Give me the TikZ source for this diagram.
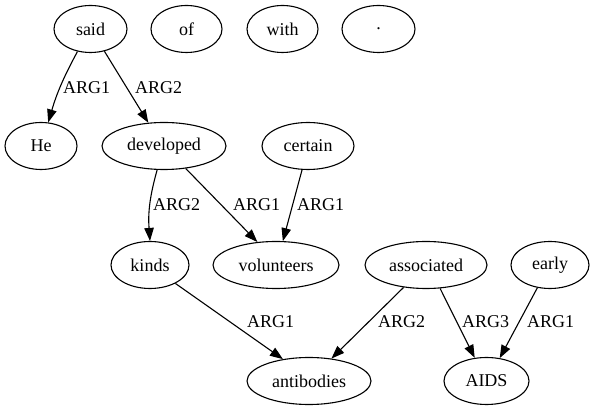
\documentclass[tikz,border=0pt]{standalone}
\usepackage{fontspec}
\setmainfont{Liberation Serif}
\usetikzlibrary{shapes.geometric,arrows.meta}
\tikzset{
  wordnode/.style={ellipse, draw, line width=1.1pt, inner sep=0pt, minimum height=47pt, font=\fontsize{18}{20}\selectfont},
  rolelabel/.style={anchor=west, inner sep=0pt, font=\fontsize{18}{20}\selectfont},
  arr/.style={line width=1.1pt, -{Triangle[length=13pt,width=9.5pt]}}
}
\begin{document}
\begin{tikzpicture}[x=1pt,y=1pt]
\useasboundingbox (0,0) rectangle (593,411);
% row 1
\node[wordnode, minimum width=73pt] (said) at (90.5,382) {said};
\node[wordnode, minimum width=71pt] (of) at (186.5,382) {of};
\node[wordnode, minimum width=71pt] (with) at (282.5,382) {with};
\node[wordnode, minimum width=73pt] (dot) at (378.5,382) {.};
% row 2
\node[wordnode, minimum width=72pt] (He) at (41,265) {He};
\node[wordnode, minimum width=124pt] (developed) at (164,265) {developed};
\node[wordnode, minimum width=92pt] (certain) at (308,265) {certain};
% row 3
\node[wordnode, minimum width=78pt] (kinds) at (150,146) {kinds};
\node[wordnode, minimum width=126pt] (volunteers) at (276,146) {volunteers};
\node[wordnode, minimum width=122pt] (associated) at (426,146) {associated};
\node[wordnode, minimum width=78pt] (early) at (550,146) {early};
% row 4
\node[wordnode, minimum width=124pt] (antibodies) at (309,30) {antibodies};
\node[wordnode, minimum width=85pt] (AIDS) at (486.5,30) {AIDS};
% edges
\draw[arr] (said.240) to[bend right=6] (He.73);
\draw[arr] (said.-58) -- (developed.124);
\draw[arr] (developed.-106) to[bend right=10] (kinds.90);
\draw[arr] (developed.-46) -- (volunteers.129);
\draw[arr] (certain.-104) -- (volunteers.74);
\draw[arr] (kinds.-36) -- (antibodies.140);
\draw[arr] (associated.-135) -- (antibodies.45);
\draw[arr] (associated.-59) -- (AIDS.117);
\draw[arr] (early.-119) -- (AIDS.60);
% labels
\node[rolelabel] (l1) at (63,323) {ARG1};
\node[rolelabel] (l2) at (135,323) {ARG2};
\node[rolelabel] (l3) at (153,206) {ARG2};
\node[rolelabel] (l4) at (233,206) {ARG1};
\node[rolelabel] (l5) at (297,206) {ARG1};
\node[rolelabel] (l6) at (247,89) {ARG1};
\node[rolelabel] (l7) at (378,89) {ARG2};
\node[rolelabel] (l8) at (462,89) {ARG3};
\node[rolelabel] (l9) at (527,89) {ARG1};
\end{tikzpicture}
\end{document}
